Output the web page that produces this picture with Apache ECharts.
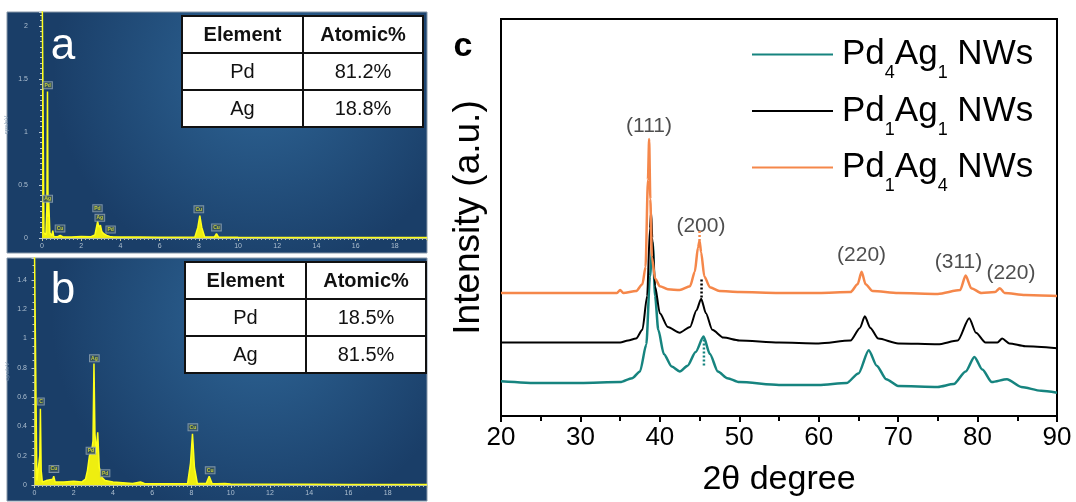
<!DOCTYPE html>
<html>
<head>
<meta charset="utf-8">
<style>
html, body { margin: 0; padding: 0; background: #fff; }
#main { width: 1076px; height: 502px; }
</style>
</head>
<body>
<div id="main"></div>
<script src="https://cdn.jsdelivr.net/npm/echarts@6/dist/echarts.min.js"></script>
<script>
// EDS spectrum a (energy keV / cps per eV)
var edsAEnergy = [0, 0.05, 0.1, 0.2, 0.25, 0.28, 0.31, 0.34, 0.4, 0.5, 0.55, 0.6, 0.8, 0.93, 1.05, 1.5, 2, 2.5, 2.7, 2.84, 2.9, 2.98, 3.05, 3.15, 3.3, 3.45, 3.6, 4, 5, 6, 7, 7.8, 7.95, 8.05, 8.15, 8.3, 8.8, 8.9, 9.0, 9.2, 10, 12, 14, 16, 18, 19.64];
var edsAValue = [2.6, 2.6, 0.05, 0.03, 0.3, 1.38, 0.2, 0.37, 0.05, 0.02, 0.07, 0.015, 0.012, 0.025, 0.012, 0.01, 0.015, 0.012, 0.03, 0.157, 0.1, 0.12, 0.06, 0.04, 0.025, 0.015, 0.012, 0.01, 0.01, 0.008, 0.008, 0.01, 0.1, 0.21, 0.1, 0.01, 0.01, 0.04, 0.01, 0.008, 0.006, 0.005, 0.005, 0.004, 0.004, 0.004];
var edsAMarks = [[0.29, 1.44, 'Pd'], [0.29, 0.37, 'Ag'], [0.92, 0.09, 'Cu'], [2.83, 0.28, 'Pd'], [2.95, 0.19, 'Ag'], [3.5, 0.08, 'Pd'], [8.0, 0.27, 'Cu'], [8.9, 0.1, 'Cu']];

// EDS spectrum b
var edsBEnergy = [0, 0.06, 0.12, 0.2, 0.27, 0.3, 0.34, 0.4, 0.6, 0.93, 0.98, 1.05, 1.5, 2, 2.4, 2.6, 2.7, 2.8, 2.9, 2.98, 3.03, 3.08, 3.15, 3.22, 3.3, 3.45, 3.6, 4, 5, 5.4, 5.6, 6, 7, 7.8, 7.95, 8.05, 8.15, 8.3, 8.75, 8.9, 9.05, 9.3, 9.7, 10, 12, 14, 16, 18, 20];
var edsBValue = [1.6, 1.6, 0.03, 0.02, 0.2, 0.52, 0.1, 0.02, 0.03, 0.04, 0.06, 0.02, 0.02, 0.025, 0.02, 0.04, 0.1, 0.2, 0.22, 0.3, 0.83, 0.35, 0.22, 0.36, 0.12, 0.05, 0.03, 0.02, 0.01, 0.02, 0.01, 0.008, 0.008, 0.01, 0.15, 0.35, 0.12, 0.01, 0.01, 0.06, 0.01, 0.008, 0.01, 0.006, 0.005, 0.005, 0.004, 0.004, 0.004];
var edsBMarks = [[0.33, 0.57, 'C'], [0.99, 0.11, 'Cu'], [3.05, 0.865, 'Ag'], [2.87, 0.234, 'Pd'], [3.6, 0.08, 'Pd'], [8.07, 0.394, 'Cu'], [8.95, 0.1, 'Cu']];

// composition tables
var tableHeader = ['Element', 'Atomic%'];
var tableARows = [['Pd', '81.2%'], ['Ag', '18.8%']];
var tableBRows = [['Pd', '18.5%'], ['Ag', '81.5%']];

// XRD (2theta, intensity a.u.)
var xrdOrange = [[20,127],[30,127],[34.6,127],[35,130],[35.4,127],[37,129],[37.8,136],[38.2,154],[38.5,244],[38.65,286],[38.8,224],[39.0,164],[39.4,142],[40,134],[41,131],[42.5,130],[43.8,134],[44.4,149],[44.8,174],[45.0,181],[45.2,169],[45.6,144],[46.3,133],[47.5,129],[50,128],[55,127],[60,127],[64,128],[64.9,136],[65.4,149],[65.9,136],[66.8,129],[70,127],[75,126],[77.8,130],[78.5,145],[79.2,132],[80.5,127],[82.2,128],[82.8,132],[83.4,127],[86,125],[90,124]];
var xrdBlack = [[20,76],[30,76],[35,76],[36,78],[37,80],[37.8,89],[38.4,124],[38.75,194],[38.9,211],[39.05,184],[39.4,134],[40,106],[41,92],[42.5,86],[43.8,92],[44.6,109],[45.2,121],[45.8,106],[46.6,89],[48,81],[50,78],[55,76],[60,75],[64,78],[65.2,91],[65.8,103],[66.5,91],[67.5,80],[70,75],[75,74],[77.5,78],[78.95,101],[79.8,86],[81,76],[82.5,76],[83.1,80],[84,75],[86,72],[90,70]];
var xrdTeal = [[20,36],[25,34],[30,34],[35,35],[36.5,39],[37.5,46],[38.3,74],[38.75,144],[39.1,179],[39.4,124],[39.8,89],[40.5,64],[41.5,51],[42.5,46],[43.5,52],[44.5,66],[45.5,82],[46.3,64],[47.3,46],[48.5,39],[50,35],[55,32],[60,32],[63.5,34],[65,44],[66.3,68],[67.3,52],[68.5,38],[70,31],[75,30],[77,33],[78.5,46],[79.6,61],[80.6,48],[81.8,35],[83.7,38],[85.5,30],[88,26],[90,24]];
var dotOrange = [[45.0, 191], [45.0, 181]];
var dotBlack = [[45.25, 141], [45.25, 121]];
var dotTeal = [[45.55, 79], [45.55, 51]];
var peakLabels = [[38.64, 299, '(111)'], [45.17, 196, '(200)'], [65.4, 166, '(220)'], [77.6, 159, '(311)'], [84.2, 147, '(220)']];

var seriesNames = ['Pd4Ag1 NWs', 'Pd1Ag1 NWs', 'Pd1Ag4 NWs'];
var seriesSubs = [['4', '1'], ['1', '1'], ['1', '4']];
var seriesColors = ['#16847f', '#000000', '#f5874a'];

var FONT = 'Liberation Sans, Arial, sans-serif';

function zip(xs, ys) {
    var out = [];
    for (var i = 0; i < xs.length; i++) out.push([xs[i], ys[i]]);
    return out;
}

function table(x, y, w1, w2, h, rows) {
    var els = [];
    var all = [tableHeader].concat(rows);
    els.push({ type: 'rect', z: 100, shape: { x: x, y: y, width: w1 + w2, height: h * all.length },
        style: { fill: '#fff', stroke: '#111', lineWidth: 2 } });
    for (var r = 1; r < all.length; r++) {
        els.push({ type: 'line', z: 101, shape: { x1: x, y1: y + h * r, x2: x + w1 + w2, y2: y + h * r },
            style: { stroke: '#111', lineWidth: 2 } });
    }
    els.push({ type: 'line', z: 101, shape: { x1: x + w1, y1: y, x2: x + w1, y2: y + h * all.length },
        style: { stroke: '#111', lineWidth: 2 } });
    for (var i = 0; i < all.length; i++) {
        for (var c = 0; c < 2; c++) {
            els.push({ type: 'text', z: 102,
                style: { x: x + (c === 0 ? w1 / 2 : w1 + w2 / 2), y: y + h * i + h / 2 + 1, text: all[i][c],
                    fill: '#111', font: (i === 0 ? 'bold ' : '') + '20px ' + FONT, align: 'center', verticalAlign: 'middle' } });
        }
    }
    return els;
}

function panelBg(x, y, w, h) {
    return { type: 'rect', z: -10, shape: { x: x, y: y, width: w, height: h },
        style: { stroke: '#8797a8', lineWidth: 1,
            fill: new echarts.graphic.RadialGradient(0.6, 0.25, 0.85, [
                { offset: 0, color: '#2e6596' },
                { offset: 1, color: '#1a3e68' }]) } };
}

function edsX(idx, max) {
    return {
        type: 'value', gridIndex: idx, min: 0, max: max, interval: 2,
        axisLine: { lineStyle: { color: '#b5bfae', width: 1 } },
        axisTick: { length: 3, lineStyle: { color: '#c3c9a8' } },
        minorTick: { show: true, splitNumber: 10, length: 2, lineStyle: { color: '#b8c09a' } },
        axisLabel: { color: '#aebfd0', fontSize: 7, margin: 5, showMaxLabel: false, fontFamily: FONT },
        splitLine: { show: false }
    };
}

function edsY(idx, max, interval, minor, offset, nameGap) {
    return {
        type: 'value', gridIndex: idx, min: 0, max: max, interval: interval, offset: offset,
        name: 'cps/eV', nameLocation: 'middle', nameGap: nameGap, nameRotate: 90,
        nameTextStyle: { color: '#7e97b0', fontSize: 6, fontFamily: FONT },
        axisLine: { show: true, lineStyle: { color: '#8ea2b6', width: 1 } },
        axisTick: { show: true, length: 3, lineStyle: { color: '#b9c6d3' } },
        minorTick: { show: true, splitNumber: minor, length: 2, lineStyle: { color: '#b9c6d3' } },
        axisLabel: { color: '#aebfd0', fontSize: 7, margin: 3, showMaxLabel: false, fontFamily: FONT },
        splitLine: { show: false }
    };
}

function edsSpec(idx, data, width) {
    return {
        type: 'line', xAxisIndex: idx, yAxisIndex: idx, data: data, symbol: 'none',
        lineStyle: { color: '#ffff1a', width: width },
        areaStyle: { color: '#eeee10', opacity: 1 },
        silent: true
    };
}

function edsMarks(idx, data) {
    return {
        type: 'scatter', xAxisIndex: idx, yAxisIndex: idx, data: data, symbolSize: 0, z: 5,
        label: { show: true, position: [0, 0], align: 'center', verticalAlign: 'middle',
            formatter: function (p) { return p.value[2]; },
            color: '#e8e83a', fontSize: 5, fontWeight: 'bold', fontFamily: FONT,
            backgroundColor: '#2f4c56', borderColor: '#95a6b4', borderWidth: 1, padding: [1, 1, 0, 1] }
    };
}

function xrdLine(name, color, data, width) {
    return {
        name: name, type: 'line', xAxisIndex: 2, yAxisIndex: 2, data: data, symbol: 'none',
        smooth: 0.25, smoothMonotone: 'x',
        lineStyle: { color: color, width: width }, itemStyle: { color: color }
    };
}

function dotLine(color, data) {
    return {
        type: 'line', xAxisIndex: 2, yAxisIndex: 2, data: data, symbol: 'none', z: 4,
        lineStyle: { color: color, width: 2.5, type: [2, 2] }, silent: true
    };
}

var chart = echarts.init(document.getElementById('main'));

var graphics = [
    panelBg(7, 12, 420, 241),
    panelBg(7, 258, 420, 243),
    { type: 'text', z: 50, style: { x: 63, y: 47, text: 'a', fill: '#fff', font: '44px ' + FONT, align: 'center', verticalAlign: 'middle' } },
    { type: 'text', z: 50, style: { x: 63, y: 291, text: 'b', fill: '#fff', font: '44px ' + FONT, align: 'center', verticalAlign: 'middle' } },
    { type: 'text', z: 50, style: { x: 463, y: 47, text: 'c', fill: '#000', font: 'bold 34px ' + FONT, align: 'center', verticalAlign: 'middle' } }
].concat(table(182, 16, 121, 120, 37, tableARows)).concat(table(185, 262, 121, 120, 37, tableBRows));

var option = {
    animation: false,
    backgroundColor: '#fff',
    textStyle: { fontFamily: FONT },
    graphic: graphics,
    legend: {
        orient: 'vertical', left: 747, top: 32, itemGap: 11,
        itemWidth: 81, itemHeight: 2, icon: 'rect', selectedMode: false,
        data: seriesNames,
        formatter: function (name) {
            var s = seriesSubs[seriesNames.indexOf(name)];
            return '{f|Pd}{s|' + s[0] + '}{m|Ag}{s|' + s[1] + '}{m| NWs}';
        },
        textStyle: {
            rich: {
                f: { fontSize: 35, color: '#000', padding: [0, 0, 0, 4], fontFamily: FONT },
                m: { fontSize: 35, color: '#000', fontFamily: FONT },
                s: { fontSize: 18, color: '#000', padding: [38, 0, 0, 0], fontFamily: FONT }
            }
        }
    },
    grid: [
        { left: 42, top: 12, right: 649, bottom: 264 },
        { left: 34.5, top: 258, right: 649, bottom: 17 },
        { left: 501, top: 19, right: 19, bottom: 67, show: true, borderColor: '#000', borderWidth: 2, backgroundColor: 'transparent' }
    ],
    xAxis: [
        edsX(0, 19.64),
        edsX(1, 20),
        {
            type: 'value', gridIndex: 2, min: 20, max: 90, interval: 10,
            name: '2\u03b8 degree', nameLocation: 'middle', nameGap: 47,
            nameTextStyle: { color: '#000', fontSize: 34, fontFamily: FONT },
            axisLine: { lineStyle: { color: '#000', width: 2 } },
            axisTick: { length: 6, inside: false, lineStyle: { color: '#000', width: 2 } },
            minorTick: { show: true, splitNumber: 2, length: 5, lineStyle: { color: '#000', width: 2 } },
            axisLabel: { color: '#000', fontSize: 26, margin: 9, fontFamily: FONT },
            splitLine: { show: false }
        }
    ],
    yAxis: [
        edsY(0, 2.13, 0.5, 10, 11, 22),
        edsY(1, 1.55, 0.2, 4, 4.5, 20),
        {
            type: 'value', gridIndex: 2, min: 0, max: 410,
            name: 'Intensity (a.u.)', nameLocation: 'middle', nameGap: 14,
            nameTextStyle: { color: '#000', fontSize: 37, fontFamily: FONT },
            axisLine: { show: false }, axisTick: { show: false }, axisLabel: { show: false },
            splitLine: { show: false }
        }
    ],
    series: [
        edsSpec(0, zip(edsAEnergy, edsAValue), 1.5),
        edsSpec(1, zip(edsBEnergy, edsBValue), 1.5),
        edsMarks(0, edsAMarks),
        edsMarks(1, edsBMarks),
        xrdLine(seriesNames[0], seriesColors[0], xrdTeal, 2.5),
        xrdLine(seriesNames[1], seriesColors[1], xrdBlack, 2),
        xrdLine(seriesNames[2], seriesColors[2], xrdOrange, 2.5),
        dotLine(seriesColors[2], dotOrange),
        dotLine(seriesColors[1], dotBlack),
        dotLine(seriesColors[0], dotTeal),
        {
            type: 'scatter', xAxisIndex: 2, yAxisIndex: 2, data: peakLabels, symbolSize: 0,
            label: { show: true, position: [0, 0], align: 'center', verticalAlign: 'middle',
                formatter: function (p) { return p.value[2]; },
                color: '#222', fontSize: 21, fontFamily: FONT }
        }
    ]
};

chart.setOption(option);
</script>
</body>
</html>
